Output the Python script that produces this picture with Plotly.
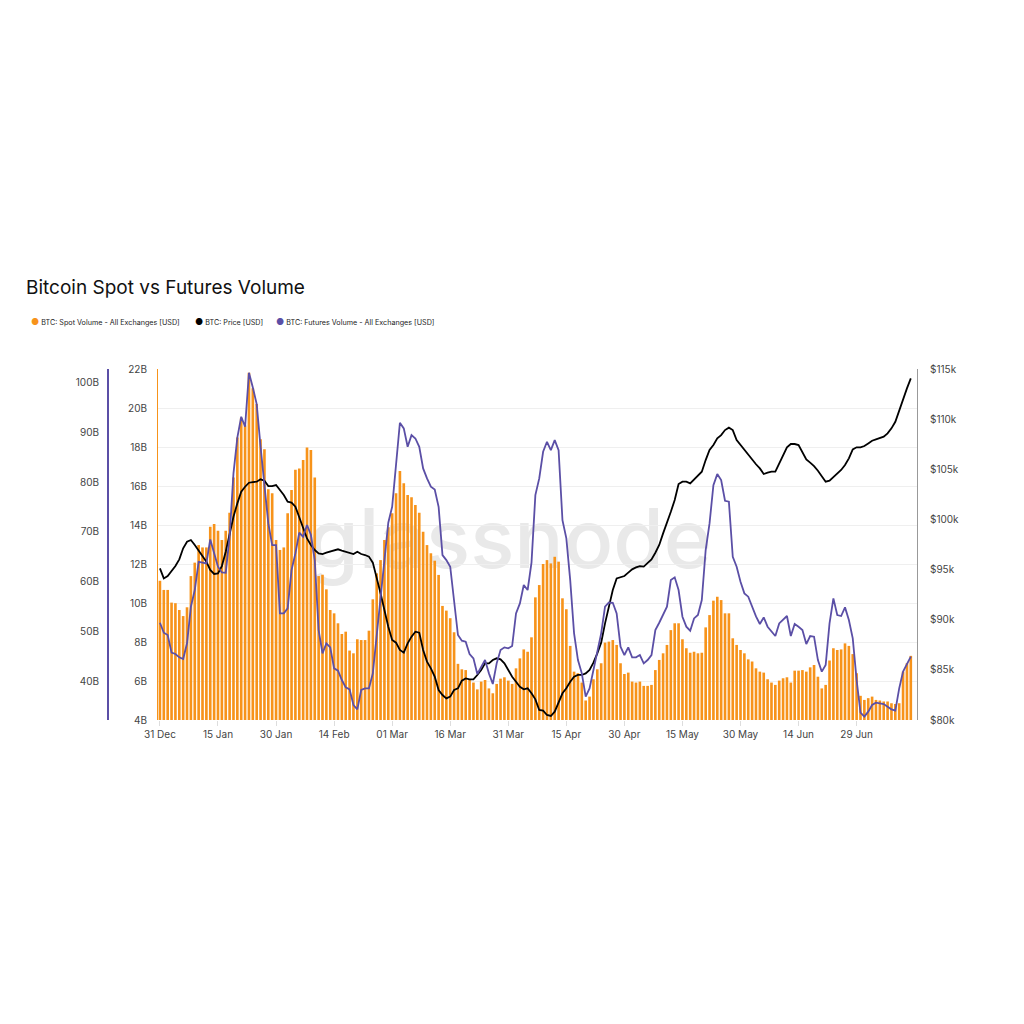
import pandas as pd
import plotly.graph_objects as go

start_date = "2024-12-31"

spot_b = [
    11.14, 10.67, 10.67, 10.02, 9.99, 9.64, 9.33, 9.78, 11.38, 12.07,
    12.97, 12.85, 12.85, 13.91, 14.05, 13.71, 13.23, 13.71, 14.63, 16.44,
    18.49, 19.5, 19.1, 21.81, 21.01, 20.2, 18.4, 17.88, 15.83, 15.63,
    13.23, 12.72, 12.85, 14.6, 15.8, 16.83, 16.9, 17.33, 17.98, 17.85,
    16.44, 11.38, 11.45, 10.70, 9.64, 9.47, 8.96, 8.41, 8.53, 7.56,
    7.42, 8.14, 8.1, 8.1, 8.58, 10.19, 11.52, 12.2, 13.23, 13.88,
    14.6, 15.63, 16.77, 16.14, 15.54, 15.42, 15.03, 14.63, 13.66, 12.97,
    12.55, 12.17, 11.44, 9.85, 9.61, 9.22, 8.5, 6.88, 6.6, 6.56,
    6.05, 5.92, 5.57, 5.97, 6.05, 5.62, 5.37, 5.85, 6.12, 6.19,
    6.02, 5.85, 6.65, 7.16, 7.62, 7.5, 8.24, 10.29, 10.92, 12.0,
    12.2, 12.03, 12.37, 12.12, 10.24, 9.68, 7.8, 6.48, 6.4, 5.92,
    5.0, 5.2, 6.09, 6.6, 6.91, 7.97, 8.02, 8.1, 7.85, 6.91,
    6.36, 6.43, 5.97, 5.92, 5.97, 5.75, 5.75, 5.8, 6.56, 7.08,
    7.42, 7.85, 8.61, 8.96, 8.96, 8.14, 7.68, 7.45, 7.5, 7.42,
    7.45, 8.75, 9.38, 10.12, 10.32, 10.15, 9.47, 9.47, 8.19, 7.85,
    7.59, 7.42, 7.11, 7.0, 6.65, 6.48, 6.43, 6.09, 5.92, 5.8,
    6.02, 6.14, 6.19, 5.92, 6.53, 6.53, 6.56, 6.48, 6.7, 6.82,
    6.22, 5.62, 5.8, 7.05, 7.68, 7.59, 7.62, 7.93, 7.8, 7.38,
    6.4, 5.24, 5.03, 5.12, 5.2, 5.03, 5.0, 4.95, 4.95, 4.86,
    4.82, 4.86, 6.48, 6.91, 7.29,
]

futures_b = [
    51.73, 49.72, 49.25, 45.7, 45.43, 44.76, 44.42, 47.58, 54.95, 58.31,
    64.0, 63.87, 63.67, 68.5, 65.68, 63.0, 61.86, 61.8, 69.04, 81.78,
    89.0, 93.18, 91.17, 102.04, 99.09, 95.73, 87.15, 79.1, 71.72, 67.36,
    67.36, 53.61, 53.61, 54.62, 62.33, 65.68, 69.84, 69.04, 71.4, 69.44,
    64.34, 50.26, 45.56, 47.58, 46.77, 42.55, 42.08, 40.2, 38.72, 38.32,
    35.17, 34.3, 38.19, 38.52, 38.52, 41.54, 48.92, 57.64, 64.34, 71.85,
    75.07, 83.12, 91.98, 90.84, 87.15, 89.49, 88.82, 87.15, 82.79, 80.78,
    79.1, 78.56, 75.07, 65.35, 64.34, 63.0, 56.29, 49.25, 48.11, 47.91,
    45.43, 44.56, 41.41, 42.88, 44.22, 41.54, 39.39, 43.55, 46.23, 46.77,
    46.57, 47.04, 53.61, 55.62, 59.31, 58.31, 63.81, 77.42, 80.78, 86.14,
    88.15, 86.48, 88.49, 86.48, 72.39, 68.7, 60.32, 49.59, 44.22, 41.54,
    36.85, 38.52, 42.21, 46.23, 49.59, 54.95, 55.8, 55.75, 53.61, 46.91,
    45.23, 46.77, 44.76, 44.76, 45.23, 43.55, 44.22, 45.23, 50.26, 51.73,
    53.28, 54.95, 60.32, 60.86, 58.31, 52.94, 50.93, 50.13, 52.6, 53.28,
    56.29, 66.36, 71.72, 79.43, 81.65, 80.44, 76.28, 76.08, 65.01, 63.0,
    59.98, 57.64, 56.97, 54.95, 53.0, 51.47, 52.81, 50.93, 49.92, 49.05,
    51.6, 52.27, 53.08, 49.05, 51.47, 50.93, 50.26, 47.44, 49.05, 48.92,
    44.22, 41.88, 43.22, 51.6, 56.63, 53.28, 53.08, 54.82, 52.27, 48.58,
    40.2, 33.63, 32.82, 33.83, 35.17, 35.64, 35.5, 35.37, 34.83, 34.3,
    34.03, 38.52, 41.88, 43.55, 44.89,
]

price_k = [
    95.12, 94.12, 94.36, 94.89, 95.35, 96.02, 97.12, 97.78, 97.95, 97.45,
    96.88, 96.29, 95.79, 94.96, 94.56, 94.62, 95.35, 96.78, 98.61, 100.27,
    101.6, 102.77, 103.26, 103.66, 103.73, 103.76, 104.0, 103.86, 103.33, 103.33,
    103.43, 102.93, 102.43, 101.77, 101.67, 101.27, 100.27, 99.28, 98.1, 97.45,
    96.95, 96.62, 96.55, 96.68, 96.78, 96.88, 97.02, 96.88, 96.78, 96.68,
    96.55, 96.78, 96.55, 96.45, 96.29, 95.69, 94.29, 92.63, 90.97, 89.3,
    87.98, 87.71, 86.98, 86.71, 87.64, 88.31, 88.81, 88.71, 86.98, 85.82,
    85.15, 84.32, 82.99, 82.49, 82.16, 82.33, 82.99, 83.16, 83.92, 84.15,
    84.05, 84.05, 84.49, 84.99, 85.65, 85.65, 85.98, 86.15, 86.05, 85.65,
    84.99, 84.32, 83.82, 83.32, 83.06, 83.16, 82.66, 82.06, 81.0, 80.93,
    80.5, 80.4, 80.83, 81.66, 82.66, 83.16, 83.82, 84.32, 84.49, 84.49,
    84.65, 84.99, 85.72, 86.65, 87.71, 89.64, 91.3, 92.96, 94.12, 94.22,
    94.36, 94.69, 95.02, 95.22, 95.35, 95.29, 95.62, 96.02, 96.68, 97.45,
    98.61, 99.61, 100.77, 101.93, 103.53, 103.76, 103.76, 103.6, 104.0, 104.43,
    104.76, 105.92, 106.92, 107.42, 108.08, 108.41, 108.91, 109.15, 108.91, 107.92,
    107.42, 106.92, 106.42, 105.92, 105.5, 105.09, 104.53, 104.66, 104.76, 104.76,
    105.59, 106.52, 107.19, 107.52, 107.52, 107.42, 106.75, 105.99, 105.66, 105.32,
    104.86, 104.26, 103.76, 103.86, 104.19, 104.53, 104.93, 105.42, 106.09, 106.99,
    107.19, 107.19, 107.32, 107.58, 107.85, 107.98, 108.08, 108.25, 108.58, 109.08,
    109.74, 110.91, 112.07, 113.07, 114.07,
]

date_ticks = ["2024-12-31", "2025-01-15", "2025-01-30", "2025-02-14", "2025-03-01",
              "2025-03-16", "2025-03-31", "2025-04-15", "2025-04-30", "2025-05-15",
              "2025-05-30", "2025-06-14", "2025-06-29"]
date_tick_labels = ["31 Dec", "15 Jan", "30 Jan", "14 Feb", "01 Mar", "16 Mar", "31 Mar",
                    "15 Apr", "30 Apr", "15 May", "30 May", "14 Jun", "29 Jun"]
spot_ticks = [4, 6, 8, 10, 12, 14, 16, 18, 20, 22]
spot_tick_labels = ["4B", "6B", "8B", "10B", "12B", "14B", "16B", "18B", "20B", "22B"]
fut_ticks = [40, 50, 60, 70, 80, 90, 100]
fut_tick_labels = ["40B", "50B", "60B", "70B", "80B", "90B", "100B"]
price_ticks = [80, 85, 90, 95, 100, 105, 110, 115]
price_tick_labels = ["$80k", "$85k", "$90k", "$95k", "$100k", "$105k", "$110k", "$115k"]

ORANGE = "#F7931A"
PURPLE = "#5B4FA6"
BLACK = "#000000"
FONT = "Inter"

dates = pd.date_range(start_date, periods=len(spot_b), freq="D")
t0 = pd.Timestamp(start_date)

fig = go.Figure()
fig.add_trace(go.Bar(x=dates, y=spot_b, marker=dict(color=ORANGE, line=dict(width=0)),
                     name="BTC: Spot Volume - All Exchanges [USD]", showlegend=False,
                     yaxis="y"))
fig.add_trace(go.Scatter(x=dates, y=price_k, mode="lines", line=dict(color=BLACK, width=1.8),
                         name="BTC: Price [USD]", showlegend=False, yaxis="y2"))
fig.add_trace(go.Scatter(x=dates, y=futures_b, mode="lines", line=dict(color=PURPLE, width=1.8),
                         name="BTC: Futures Volume - All Exchanges [USD]", showlegend=False,
                         yaxis="y3"))

L, R, T, B = 60, 107, 369, 304
W = 1024 - L - R
H = 1024 - T - B

def px_x(p):
    return (p - L) / W

def px_y(p):
    return (1024 - B - p) / H

tick_font = dict(family=FONT, size=10, color="#444")

fig.update_layout(
    width=1024, height=1024,
    margin=dict(l=L, r=R, t=T, b=B, pad=0),
    paper_bgcolor="white", plot_bgcolor="white",
    bargap=0.32,
    showlegend=False,
    font=dict(family=FONT),
    title=dict(text="Bitcoin Spot vs Futures Volume", xref="container", yref="container",
               x=26 / 1024, xanchor="left", y=1 - 287 / 1024, yanchor="middle",
               font=dict(family=FONT, size=19, color="#111")),
    xaxis=dict(type="date", domain=[px_x(158), 1],
               range=[t0 - pd.Timedelta(hours=12), t0 + pd.Timedelta(days=195.6)],
               tickvals=date_ticks, ticktext=date_tick_labels,
               ticks="outside", ticklen=5, tickcolor="#dddddd",
               showgrid=False, showline=False, zeroline=False, tickfont=tick_font),
    yaxis=dict(range=[4, 22], tickvals=spot_ticks, ticktext=spot_tick_labels,
               showgrid=True, gridcolor="#efefef", gridwidth=1, zeroline=False,
               showline=True, linecolor=ORANGE, linewidth=1, ticks="",
               tickfont=tick_font, ticklabelstandoff=8),
    yaxis2=dict(range=[80, 115], tickvals=price_ticks, ticktext=price_tick_labels,
                overlaying="y", side="right", anchor="x", showgrid=False, zeroline=False,
                showline=True, linecolor="#999999", linewidth=1, ticks="",
                tickfont=tick_font, ticklabelstandoff=10),
    yaxis3=dict(range=[32.15, 102.8], tickvals=fut_ticks, ticktext=fut_tick_labels,
                overlaying="y", side="left", anchor="free", position=px_x(108),
                showgrid=False, zeroline=False, showline=True, linecolor=PURPLE, linewidth=2,
                ticks="", tickfont=tick_font, ticklabelstandoff=6),
)

# watermark behind the data
fig.add_shape(type="rect", xref="paper", yref="paper",
              x0=px_x(280), x1=px_x(740), y0=px_y(585), y1=px_y(485),
              line=dict(width=0), fillcolor="rgba(0,0,0,0)", layer="below",
              label=dict(text="glassnode",
                         font=dict(family=FONT, size=82, color="#e9e9e9", weight=500),
                         textposition="middle center"))

legend_items = [
    (29, ORANGE, "BTC: Spot Volume - All Exchanges [USD]"),
    (193, BLACK, "BTC: Price [USD]"),
    (274, PURPLE, "BTC: Futures Volume - All Exchanges [USD]"),
]
for xp, col, txt in legend_items:
    fig.add_annotation(xref="paper", yref="paper", x=px_x(xp), y=px_y(321),
                       xanchor="left", yanchor="middle", showarrow=False,
                       text=f"<span style='color:{col};font-size:9px'>●</span> {txt}",
                       font=dict(family=FONT, size=7.2, color="#222"))

fig.write_html("out.html")
